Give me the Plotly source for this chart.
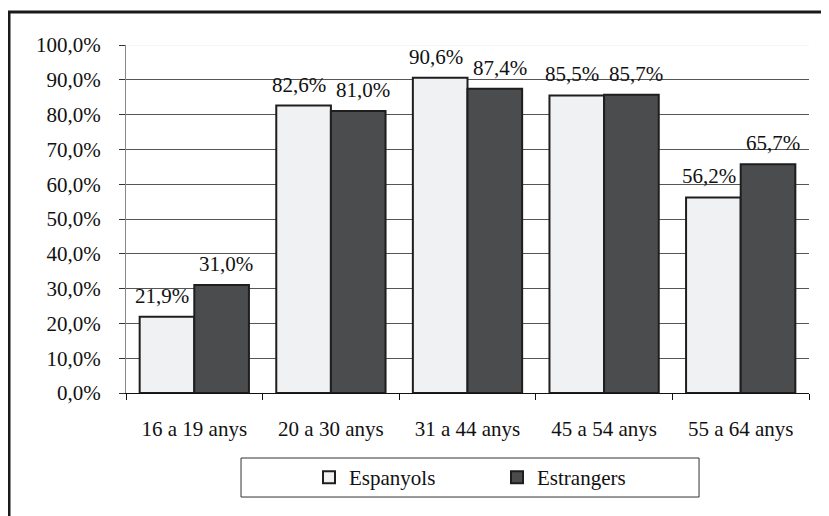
import plotly.graph_objects as go

categories = ["16 a 19 anys", "20 a 30 anys", "31 a 44 anys", "45 a 54 anys", "55 a 64 anys"]
espanyols = [21.9, 82.6, 90.6, 85.5, 56.2]
estrangers = [31.0, 81.0, 87.4, 85.7, 65.7]
y_ticks = [0, 10, 20, 30, 40, 50, 60, 70, 80, 90, 100]

FONT = "Liberation Serif"
FS = 21


def fmt(v):
    return f"{v:.1f}".replace(".", ",") + "%"


fig = go.Figure()
fig.add_trace(go.Bar(name="Espanyols", x=categories, y=espanyols,
                     marker=dict(color="#f0f1f3", line=dict(color="#1e1e1e", width=2))))
fig.add_trace(go.Bar(name="Estrangers", x=categories, y=estrangers,
                     marker=dict(color="#4b4c4e", line=dict(color="#1e1e1e", width=2))))

annotations = []
for series, shift in ((espanyols, -32), (estrangers, 32)):
    for c, v in zip(categories, series):
        annotations.append(dict(x=c, y=v, xref="x", yref="y", text=fmt(v), showarrow=False,
                                xanchor="center", yanchor="bottom", xshift=shift, yshift=7,
                                font=dict(family=FONT, size=FS, color="#111")))

fig.update_layout(
    width=821, height=508,
    margin=dict(l=118, r=20, t=37, b=123),
    paper_bgcolor="white", plot_bgcolor="white",
    barmode="group", bargap=0.2, bargroupgap=0,
    font=dict(family=FONT, size=FS, color="#111"),
    annotations=annotations,
    showlegend=True,
    legend=dict(orientation="h", x=(309 - 126) / 683, xanchor="left",
                y=-0.2428, yanchor="middle", bgcolor="rgba(0,0,0,0)",
                borderwidth=0, entrywidth=143, entrywidthmode="pixels",
                font=dict(family=FONT, size=FS, color="#111")),
    shapes=[
        dict(type="rect", xref="paper", yref="paper", x0=-0.1713, x1=1.2, y0=-0.6, y1=1.0948,
             line=dict(color="#1a1a1a", width=3), fillcolor="rgba(0,0,0,0)", layer="above"),
        dict(type="rect", xref="paper", yref="paper", x0=0.1684, x1=0.839, y0=-0.2989, y1=-0.1868,
             line=dict(color="#333", width=1), fillcolor="rgba(0,0,0,0)", layer="above"),
        dict(type="line", xref="paper", yref="y", x0=0, x1=1, y0=100, y1=100,
             line=dict(color="#f2f2f2", width=1.5), layer="above"),
    ],
)
fig.update_xaxes(type="category", showline=True, linecolor="#111", linewidth=1,
                 ticks="outside", tickson="boundaries", ticklen=6, tickcolor="#111",
                 ticklabelstandoff=17, showgrid=False,
                 tickfont=dict(family=FONT, size=FS, color="#111"))
fig.update_yaxes(range=[0, 100], tickmode="array", tickvals=y_ticks,
                 ticktext=[fmt(t) for t in y_ticks],
                 showline=True, linecolor="#888", linewidth=1,
                 ticks="outside", ticklen=6, tickcolor="#333",
                 showgrid=True, gridcolor="#555", gridwidth=1, zeroline=False,
                 ticklabelstandoff=14,
                 tickfont=dict(family=FONT, size=FS, color="#111"))

fig.write_html("out.html")
